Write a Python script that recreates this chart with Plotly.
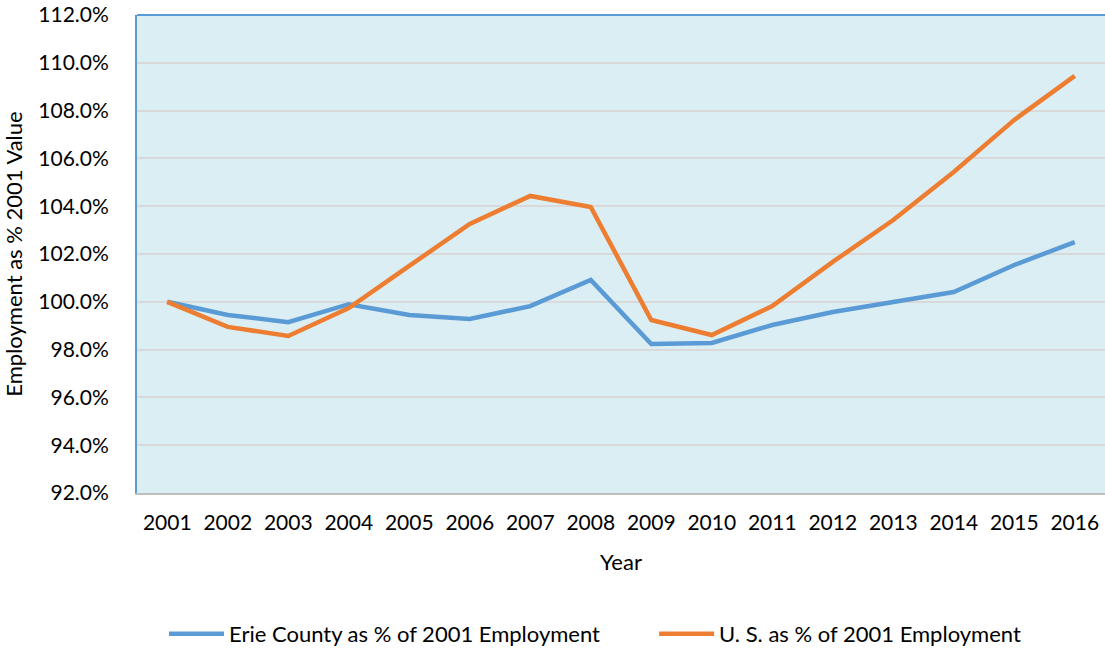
import plotly.graph_objects as go

years = [str(y) for y in range(2001, 2017)]
erie = [100.0, 99.45, 99.15, 99.9, 99.45, 99.28, 99.82, 100.91, 98.23, 98.28,
        99.03, 99.57, 99.99, 100.41, 101.54, 102.5]
us = [100.0, 98.95, 98.57, 99.74, 101.5, 103.26, 104.43, 103.97, 99.24, 98.61,
      99.82, 101.67, 103.42, 105.43, 107.61, 109.45]
y_ticks = [92, 94, 96, 98, 100, 102, 104, 106, 108, 110, 112]
y_labels = [f"{v:.1f}%" for v in y_ticks]

font = "Lato, Noto Sans, sans-serif"

fig = go.Figure()
fig.add_trace(go.Scatter(x=years, y=erie, mode="lines", name="Erie County as % of 2001 Employment",
                         line=dict(color="#5B9BD5", width=4.5), legend="legend"))
fig.add_trace(go.Scatter(x=years, y=us, mode="lines", name="U. S. as % of 2001 Employment",
                         line=dict(color="#ED7D31", width=4.5), legend="legend2"))

leg_common = dict(orientation="h", yref="container", y=1 - 634 / 650, yanchor="middle",
                  xanchor="left", itemwidth=55,
                  font=dict(size=22), bgcolor="rgba(0,0,0,0)")

fig.update_layout(
    width=1105, height=650,
    margin=dict(l=137, r=0, t=15, b=157),
    paper_bgcolor="white",
    plot_bgcolor="#DAEEF3",
    font=dict(family=font, size=21, color="#000000"),
    showlegend=True,
    legend=dict(x=0.0279, **leg_common),
    legend2=dict(x=0.5342, **leg_common),
    xaxis=dict(type="category", title=dict(text="Year", font=dict(size=22), standoff=22),
               showgrid=False, showline=True, linecolor="#BFBFBF", linewidth=1.5,
               ticks="", ticklabelstandoff=10, range=[-0.5, 15.5]),
    yaxis=dict(range=[92, 112], tickvals=y_ticks, ticktext=y_labels,
               title=dict(text="Employment as % 2001 Value", font=dict(size=22), standoff=12),
               showgrid=True, gridcolor="#D9D9D9", gridwidth=2,
               showline=True, linecolor="#5B9BD5", linewidth=2, zeroline=False,
               ticks="", ticklabelstandoff=22),
    shapes=[dict(type="line", xref="paper", yref="paper", x0=0, x1=1, y0=1, y1=1,
                 line=dict(color="#5B9BD5", width=2))],
)

fig.write_html("out.html")
